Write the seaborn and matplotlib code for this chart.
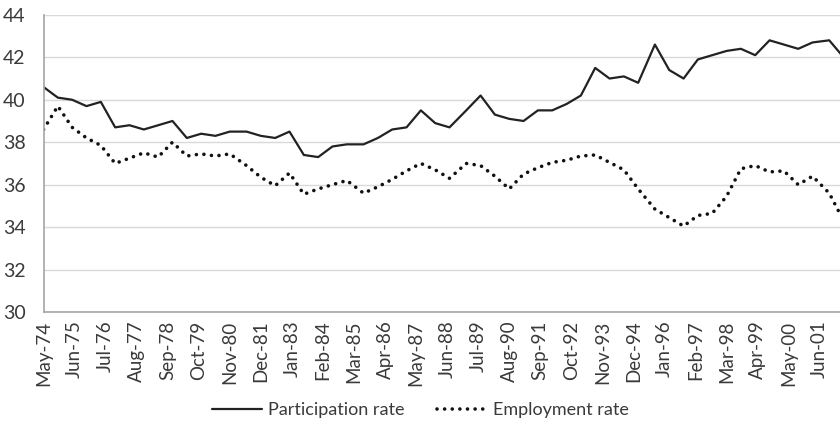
import matplotlib
matplotlib.use("Agg")
import matplotlib.pyplot as plt
import seaborn as sns
import pandas as pd

# Survey dates (year-month)
survey_dates = [
    "1974-05", "1974-11", "1975-05", "1975-11", "1976-05", "1976-11", "1977-05", "1977-11",
    "1978-05", "1978-11", "1979-05", "1979-11", "1980-05", "1980-11", "1981-06", "1981-12",
    "1982-06", "1982-12", "1983-06", "1983-12", "1984-06", "1984-12", "1985-07", "1986-01",
    "1986-07", "1987-01", "1987-07", "1988-01", "1988-07", "1989-02", "1989-08", "1990-02",
    "1990-08", "1991-02", "1991-08", "1992-02", "1992-08", "1993-02", "1993-08", "1994-02",
    "1994-08", "1995-02", "1995-09", "1996-03", "1996-09", "1997-03", "1997-09", "1998-03",
    "1998-09", "1999-03", "1999-09", "2000-03", "2000-09", "2001-03", "2001-10", "2002-04",
]

participation_rate = [
    40.6, 40.1, 40.0, 39.7, 39.9, 38.7, 38.8, 38.6, 38.8, 39.0, 38.2, 38.4, 38.3, 38.5,
    38.5, 38.3, 38.2, 38.5, 37.4, 37.3, 37.8, 37.9, 37.9, 38.2, 38.6, 38.7, 39.5, 38.9,
    38.7, 39.5, 40.2, 39.3, 39.1, 39.0, 39.5, 39.5, 39.8, 40.2, 41.5, 41.0, 41.1, 40.8,
    42.6, 41.4, 41.0, 41.9, 42.1, 42.3, 42.4, 42.1, 42.8, 42.6, 42.4, 42.7, 42.8, 42.0,
]

employment_rate = [
    38.6, 39.7, 38.7, 38.2, 37.85, 37.0, 37.25, 37.5, 37.3, 38.0, 37.35, 37.45, 37.35, 37.45,
    36.9, 36.35, 35.95, 36.55, 35.55, 35.8, 36.0, 36.2, 35.6, 35.9, 36.25, 36.65, 37.0, 36.7,
    36.3, 37.0, 36.9, 36.4, 35.8, 36.5, 36.8, 37.05, 37.15, 37.35, 37.4, 37.05, 36.7, 35.8,
    34.85, 34.45, 34.05, 34.55, 34.65, 35.45, 36.75, 36.9, 36.6, 36.65, 36.0, 36.4, 35.6, 34.3,
]

tick_labels = [
    "May-74", "Jun-75", "Jul-76", "Aug-77", "Sep-78", "Oct-79", "Nov-80", "Dec-81", "Jan-83",
    "Feb-84", "Mar-85", "Apr-86", "May-87", "Jun-88", "Jul-89", "Aug-90", "Sep-91", "Oct-92",
    "Nov-93", "Dec-94", "Jan-96", "Feb-97", "Mar-98", "Apr-99", "May-00", "Jun-01",
]

start = pd.Period("1974-05", freq="M")


def month_offset(p):
    return (p - start).n


months = [month_offset(pd.Period(d, freq="M")) for d in survey_dates]
tick_pos = [month_offset(pd.Period(pd.to_datetime(t, format="%b-%y"), freq="M")) for t in tick_labels]

df = pd.DataFrame({
    "month": months,
    "Participation rate": participation_rate,
    "Employment rate": employment_rate,
})

sns.set_theme(style="white")
plt.rcParams["font.family"] = ["Lato", "DejaVu Sans"]

fig = plt.figure(figsize=(8.4, 4.24), dpi=100)
ax = fig.add_axes([0.0518, 0.264, 1 - 0.0518, 0.965 - 0.264])

text_col = "#3a3a3a"
sns.lineplot(data=df, x="month", y="Participation rate", ax=ax, color="#222222",
             linewidth=1.6, label="Participation rate")
sns.lineplot(data=df, x="month", y="Employment rate", ax=ax, color="#111111",
             linewidth=2.6, linestyle=(0, (0.01, 2.1)), dash_capstyle="round",
             label="Employment rate")

ax.set_xlim(0, 333.5)
ax.set_ylim(30, 44)
ax.set_yticks(range(30, 45, 2))
ax.set_yticklabels([str(v) for v in range(30, 45, 2)], fontsize=14, color=text_col)
ax.set_xticks(tick_pos)
ax.set_xticklabels(tick_labels, rotation=90, fontsize=13.5, color=text_col)
ax.tick_params(axis="x", length=0, pad=6)
ax.tick_params(axis="y", length=0, pad=13)

ax.grid(axis="y", color="#d9d9d9", linewidth=1.0)
ax.set_axisbelow(True)
for side in ["top", "right"]:
    ax.spines[side].set_visible(False)
for side in ["left", "bottom"]:
    ax.spines[side].set_color("#a6a6a6")
    ax.spines[side].set_linewidth(1.2)
ax.set_xlabel("")
ax.set_ylabel("")

ax.legend_.remove()
handles, labels = ax.get_legend_handles_labels()
fig.legend(handles, labels, loc="center", bbox_to_anchor=(0.5, 0.032), ncol=2,
           frameon=False, fontsize=13, handlelength=2.8, columnspacing=1.8,
           handletextpad=0.3, labelcolor=text_col)

fig.savefig("out.png", dpi=100)
